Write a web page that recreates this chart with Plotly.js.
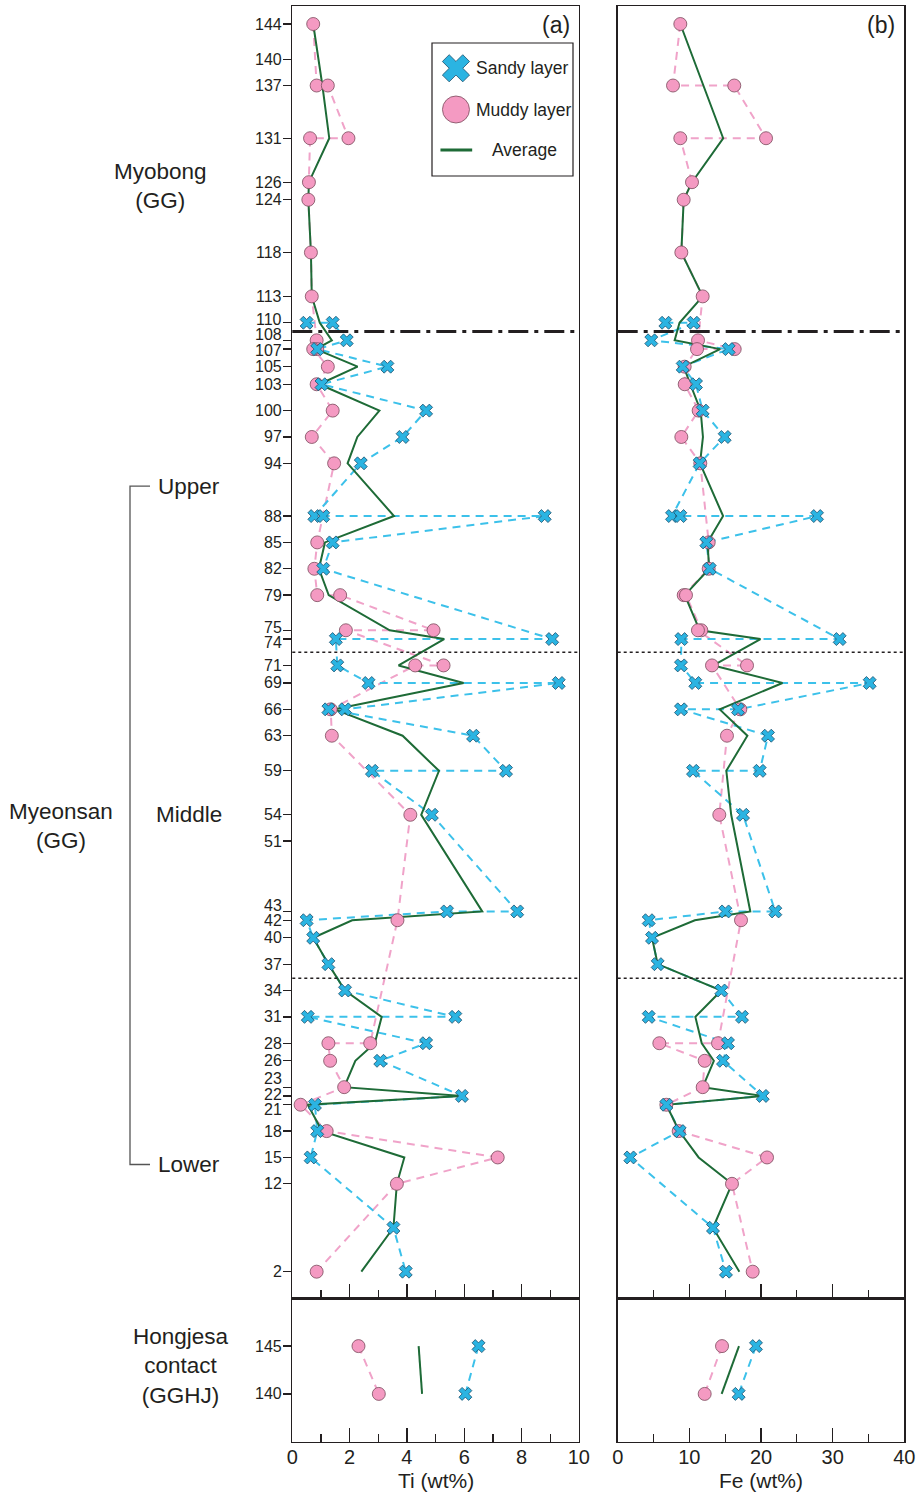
<!DOCTYPE html>
<html><head><meta charset="utf-8">
<script src="https://cdn.plot.ly/plotly-3.0.1.min.js"></script>
<style>html,body{margin:0;padding:0;background:#fff}#chart{width:919px;height:1495px}</style>
</head><body><div id="chart"></div>
<script>
// ---------------- data ----------------
const sampleTicks = [144,140,137,131,126,124,118,113,110,108,107,105,103,100,97,94,88,85,82,79,75,74,71,69,66,63,59,54,51,43,42,40,37,34,31,28,26,23,22,21,18,15,12,2];
const hjTicks = [145,140];
const tiTicks = [0,2,4,6,8,10];
const feTicks = [0,10,20,30,40];

// sandy-layer path (sample numbers, in drawing order)
const sandySample = [110,110,108,107,105,103,100,97,94,88,88,88,85,82,74,74,71,69,69,66,66,63,59,59,54,43,43,42,40,37,34,31,31,28,26,22,21,18,15,7,2];
const tiSandy = [0.50,1.41,1.90,0.87,3.32,1.02,4.67,3.85,2.39,0.77,1.08,8.81,1.41,1.08,9.07,1.52,1.57,2.66,9.30,1.84,1.26,6.31,7.46,2.78,4.87,7.85,5.40,0.50,0.73,1.26,1.84,5.69,0.54,4.67,3.07,5.92,0.79,0.87,0.64,3.53,3.96];
const feSandy = [6.65,10.60,4.69,15.49,9.07,10.93,11.86,14.93,11.44,7.58,8.74,27.82,12.37,12.84,30.98,8.88,8.83,10.83,35.17,16.79,8.83,20.98,19.82,10.51,17.49,22.00,15.02,4.33,4.79,5.58,14.46,17.35,4.33,15.39,14.70,20.24,6.79,8.65,1.76,13.30,15.11];

// muddy-layer path
const muddySample = [144,137,137,131,131,126,124,118,113,108,107,107,105,103,100,97,94,85,82,79,79,75,75,71,71,66,63,54,42,28,28,26,23,21,18,15,12,2];
const tiMuddy = [0.73,0.85,1.24,1.96,0.62,0.58,0.56,0.65,0.68,0.85,0.87,0.73,1.24,0.85,1.41,0.68,1.46,0.87,0.77,0.87,1.67,4.93,1.87,5.28,4.29,1.34,1.38,4.12,3.67,2.72,1.26,1.32,1.81,0.29,1.20,7.17,3.65,0.85];
const feMuddy = [8.74,7.72,16.27,20.70,8.74,10.37,9.21,8.88,11.86,11.21,16.33,11.07,9.35,9.35,11.30,8.88,11.53,12.70,12.70,9.21,9.53,11.67,11.20,18.05,13.16,17.11,15.25,14.18,17.21,14.00,5.81,12.14,11.86,6.79,8.51,20.84,15.95,18.84];

// average per sample
const avgSample = [144,137,131,126,124,118,113,110,108,107,105,103,100,97,94,88,85,82,79,75,74,71,69,66,63,59,54,43,42,40,37,34,31,28,26,23,22,21,18,15,12,7,2];
const tiAvg = [0.73,1.05,1.29,0.58,0.56,0.65,0.68,0.96,1.38,0.82,2.28,0.94,3.04,2.27,1.93,3.55,1.14,0.93,1.27,3.40,5.30,3.71,5.98,1.48,3.85,5.12,4.50,6.63,2.09,0.73,1.26,1.84,3.12,2.88,2.20,1.81,5.92,0.54,1.04,3.91,3.65,3.53,2.41];
const feAvg = [8.74,12.00,14.72,10.37,9.21,8.88,11.86,8.63,7.95,14.30,9.21,10.14,11.58,11.90,11.49,14.71,12.53,12.77,9.37,11.44,19.93,13.35,23.00,14.24,18.10,15.16,15.84,18.51,10.77,4.79,5.58,14.46,10.84,11.73,13.42,11.86,20.24,6.79,8.58,11.30,15.95,13.30,16.98];

// Hongjesa contact (GGHJ)
const hjSample = [145,140];
const tiHJMuddy = [2.31,3.02];
const tiHJSandy = [6.50,6.04];
const tiHJAvg = [4.41,4.53];
const feHJMuddy = [14.56,12.14];
const feHJSandy = [19.30,16.88];
const feHJAvg = [16.93,14.51];

// boundaries
const formationBoundary = [109];
const memberBoundaries = [72.5, 35.4];

// ---------------- style ----------------
const FONT = 'Liberation Sans, Arial, Helvetica, sans-serif';
const INK = '#231f20';
const PINK = '#f49ac2', PINK_LINE = '#f0a3c9', PINK_EDGE = '#7a4a5c';
const BLUE = '#2bb4e2', BLUE_LINE = '#3cc1ea', BLUE_EDGE = '#1c4f6c';
const GREEN = '#1e6b37';
const DASH = '8px,6px';

function line(x, y, xa, ya, color, dash, w) {
  return {type:'scatter', mode:'lines', x:x, y:y, xaxis:xa, yaxis:ya, showlegend:false, hoverinfo:'skip',
          line:{color:color, width:w, dash:dash}};
}
function mk(x, y, xa, ya, kind, size) {
  const isX = kind === 'x';
  return {type:'scatter', mode:'markers', x:x, y:y, xaxis:xa, yaxis:ya, showlegend:false, hoverinfo:'skip',
          marker:{symbol: isX ? 'x' : 'circle', size:size, color: isX ? BLUE : PINK,
                  line:{color: isX ? BLUE_EDGE : PINK_EDGE, width:0.8}}};
}

const traces = [
  // panel (a) main
  line(tiMuddy, muddySample, 'x', 'y', PINK_LINE, DASH, 2),
  line(tiSandy, sandySample, 'x', 'y', BLUE_LINE, DASH, 2),
  line(tiAvg, avgSample, 'x', 'y', GREEN, 'solid', 2),
  mk(tiMuddy, muddySample, 'x', 'y', 'o', 13),
  mk(tiSandy, sandySample, 'x', 'y', 'x', 11.5),
  // panel (b) main
  line(feMuddy, muddySample, 'x2', 'y2', PINK_LINE, DASH, 2),
  line(feSandy, sandySample, 'x2', 'y2', BLUE_LINE, DASH, 2),
  line(feAvg, avgSample, 'x2', 'y2', GREEN, 'solid', 2),
  mk(feMuddy, muddySample, 'x2', 'y2', 'o', 13),
  mk(feSandy, sandySample, 'x2', 'y2', 'x', 11.5),
  // Hongjesa (a)
  line(tiHJMuddy, hjSample, 'x3', 'y3', PINK_LINE, DASH, 2),
  line(tiHJSandy, hjSample, 'x3', 'y3', BLUE_LINE, DASH, 2),
  line(tiHJAvg, hjSample, 'x3', 'y3', GREEN, 'solid', 2),
  mk(tiHJMuddy, hjSample, 'x3', 'y3', 'o', 13),
  mk(tiHJSandy, hjSample, 'x3', 'y3', 'x', 11.5),
  // Hongjesa (b)
  line(feHJMuddy, hjSample, 'x4', 'y4', PINK_LINE, DASH, 2),
  line(feHJSandy, hjSample, 'x4', 'y4', BLUE_LINE, DASH, 2),
  line(feHJAvg, hjSample, 'x4', 'y4', GREEN, 'solid', 2),
  mk(feHJMuddy, hjSample, 'x4', 'y4', 'o', 13),
  mk(feHJSandy, hjSample, 'x4', 'y4', 'x', 11.5),
  // legend symbols
  {type:'scatter', mode:'markers', x:[0.17], y:[0.81], xaxis:'x5', yaxis:'y5', showlegend:false, hoverinfo:'skip',
   marker:{symbol:'x', size:24, color:BLUE, line:{color:BLUE_EDGE, width:0.8}}},
  {type:'scatter', mode:'markers', x:[0.17], y:[0.50], xaxis:'x5', yaxis:'y5', showlegend:false, hoverinfo:'skip',
   marker:{symbol:'circle', size:27, color:PINK, line:{color:PINK_EDGE, width:0.8}}},
  {type:'scatter', mode:'lines', x:[0.06, 0.285], y:[0.195, 0.195], xaxis:'x5', yaxis:'y5', showlegend:false, hoverinfo:'skip',
   line:{color:GREEN, width:3}}
];

// ---------------- layout ----------------
const W = 919, H = 1495;
const xaDom = [292.3/W, 578.8/W];
const xbDom = [617.7/W, 904.3/W];
const yMainDom = [(H-1298.3)/H, (H-6)/H];
const yHJDom = [(H-1441.7)/H, (H-1298.3)/H];
const mainRange = [-1.03, 146.05];
const hjRange = [135, 150];

function xAxis(dom, anchor, range, dtick, showLabels) {
  return {domain:dom, anchor:anchor, range:range, tickmode:'array', tickvals: dtick === 2 ? tiTicks : feTicks,
          ticks:'inside', ticklen:14, tickwidth:1.3, tickcolor:INK,
          minor:{ticks:'inside', ticklen:8, tickwidth:1.3, tickcolor:INK, dtick:dtick/2, tick0:0},
          showticklabels:showLabels, ticklabelstandoff:-3,
          tickfont:{family:FONT, size:20, color:INK},
          showgrid:false, zeroline:false, showline:true, mirror:true, linecolor:INK, linewidth:1.5, fixedrange:true};
}
function yAxis(dom, anchor, range, tickvals, showTicks) {
  return {domain:dom, anchor:anchor, range:range, tickmode:'array', tickvals:tickvals,
          ticks: showTicks ? 'outside' : '', ticklen:8, tickwidth:1.3, tickcolor:INK,
          showticklabels:false, showgrid:false, zeroline:false, showline:true, mirror:true,
          linecolor:INK, linewidth:1.5, fixedrange:true};
}

const shapes = [];
[['x','y'],['x2','y2']].forEach(([xa, ya]) => {
  formationBoundary.forEach(v => shapes.push({type:'line', xref:xa + ' domain', yref:ya, x0:0, x1:1, y0:v, y1:v,
    line:{color:INK, width:3, dash:'20px,6px,4px,6px'}}));
  memberBoundaries.forEach(v => shapes.push({type:'line', xref:xa + ' domain', yref:ya, x0:0, x1:1, y0:v, y1:v,
    line:{color:INK, width:1.5, dash:'3px,3px'}}));
});
// legend box
shapes.push({type:'rect', xref:'paper', yref:'paper', x0:432/W, x1:573/W, y0:(H-176)/H, y1:(H-43)/H,
  line:{color:INK, width:1.2}, fillcolor:'rgba(0,0,0,0)'});
// member bracket (Upper .. Lower)
const bracketTop = 91.4, bracketBottom = 14.2;
shapes.push({type:'path', xref:'paper', yref:'y',
  path:`M ${150/W} ${bracketTop} L ${130/W} ${bracketTop} L ${130/W} ${bracketBottom} L ${150/W} ${bracketBottom}`,
  line:{color:'#555', width:1.3}});

const annotations = [];
function txt(text, x, y, xref, yref, opts) {
  annotations.push(Object.assign({text:text, x:x, y:y, xref:xref, yref:yref, showarrow:false,
    font:{family:FONT, size:20, color:INK}, xanchor:'center', yanchor:'middle'}, opts || {}));
}
// sample tick labels (crowded labels are spread a few pixels apart, as in the original)
const tickNudge = {110:-3, 108:-6, 107:1, 75:-3, 74:3, 43:-6, 42:0, 23:-9, 22:-1, 21:5};
const TF = {family:FONT, size:16, color:INK};
sampleTicks.forEach(t => txt(String(t), 0, t, 'x domain', 'y',
  {xanchor:'right', xshift:-9, yshift:-(tickNudge[t] || 0), borderpad:0, font:TF}));
hjTicks.forEach(t => txt(String(t), 0, t, 'x3 domain', 'y3',
  {xanchor:'right', xshift:-9, borderpad:0, font:TF}));

// group labels
const GF = {family:FONT, size:22.5, color:INK};
txt('Myobong<br>(GG)', 160/W, 125.6, 'paper', 'y', {font:GF});
txt('Upper', 189/W, bracketTop, 'paper', 'y', {font:GF});
txt('Middle', 189/W, 54, 'paper', 'y', {font:GF});
txt('Lower', 189/W, bracketBottom, 'paper', 'y', {font:GF});
txt('Myeonsan<br>(GG)', 61/W, 52.7, 'paper', 'y', {font:GF});
txt('Hongjesa<br>contact<br>(GGHJ)', 181/W, 142.9, 'paper', 'y3', {font:GF});

// panel labels
txt('(a)', 0.975, 0.997, 'x domain', 'y domain', {xanchor:'right', yanchor:'top', font:{family:FONT, size:23, color:INK}});
txt('(b)', 0.975, 0.997, 'x2 domain', 'y2 domain', {xanchor:'right', yanchor:'top', font:{family:FONT, size:23, color:INK}});

// axis titles
txt('Ti (wt%)', 0.5, (H-1480)/H, 'x3 domain', 'paper', {font:{family:FONT, size:21, color:INK}});
txt('Fe (wt%)', 0.5, (H-1480)/H, 'x4 domain', 'paper', {font:{family:FONT, size:21, color:INK}});

// legend text
txt('Sandy layer', 0.30, 0.81, 'x5', 'y5', {xanchor:'left', font:{family:FONT, size:17.5, color:INK}});
txt('Muddy layer', 0.30, 0.50, 'x5', 'y5', {xanchor:'left', font:{family:FONT, size:17.5, color:INK}});
txt('Average', 0.41, 0.195, 'x5', 'y5', {xanchor:'left', font:{family:FONT, size:17.5, color:INK}});

const layout = {
  width:W, height:H, margin:{l:0, r:0, t:0, b:0}, paper_bgcolor:'#fff', plot_bgcolor:'rgba(0,0,0,0)',
  showlegend:false, font:{family:FONT, color:INK},
  xaxis: xAxis(xaDom, 'y', [0,10], 2, false),
  yaxis: yAxis(yMainDom, 'x', mainRange, sampleTicks, true),
  xaxis2: xAxis(xbDom, 'y2', [0,40], 10, false),
  yaxis2: yAxis(yMainDom, 'x2', mainRange, sampleTicks, false),
  xaxis3: xAxis(xaDom, 'y3', [0,10], 2, true),
  yaxis3: yAxis(yHJDom, 'x3', hjRange, hjTicks, true),
  xaxis4: xAxis(xbDom, 'y4', [0,40], 10, true),
  yaxis4: yAxis(yHJDom, 'x4', hjRange, hjTicks, false),
  xaxis5: {domain:[432/W, 573/W], anchor:'y5', range:[0,1], visible:false, fixedrange:true},
  yaxis5: {domain:[(H-176)/H, (H-43)/H], anchor:'x5', range:[0,1], visible:false, fixedrange:true},
  shapes: shapes,
  annotations: annotations
};

Plotly.newPlot('chart', traces, layout, {displayModeBar:false, staticPlot:true});
</script>
</body></html>
